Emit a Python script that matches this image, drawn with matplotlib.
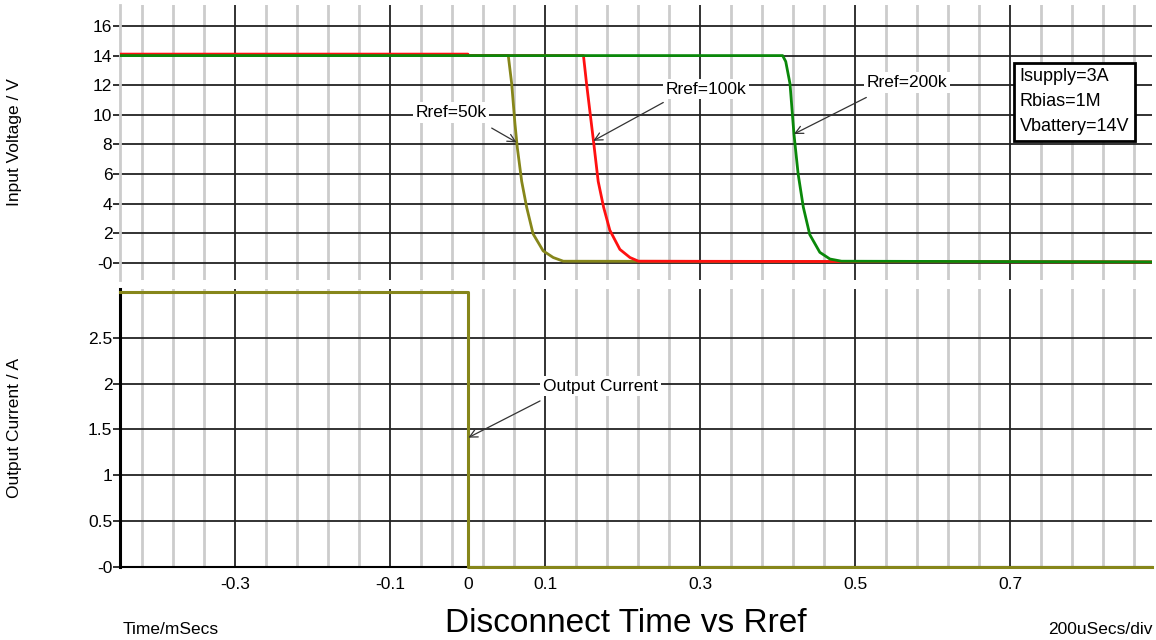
import numpy as np
import matplotlib
matplotlib.use("Agg")
import matplotlib.pyplot as plt
from matplotlib.ticker import FixedLocator

plt.rcParams['font.family'] = ['Liberation Sans', 'DejaVu Sans']

# ---------------- data ----------------
# time in ms, voltage in V
olive_t = [-0.449, 0.052, 0.0564, 0.0606, 0.0636, 0.0693, 0.0757, 0.084, 0.097, 0.110, 0.123, 0.8826]
olive_v = [14.0, 14.0, 12.1, 9.4, 7.8, 5.5, 3.75, 1.95, 0.8, 0.35, 0.1, 0.05]

red_t = [-0.449, 0.0, 0.0, 0.149, 0.153, 0.162, 0.168, 0.175, 0.183, 0.196, 0.209, 0.220, 0.8826]
red_v = [14.1, 14.1, 14.0, 14.0, 12.1, 8.2, 5.5, 3.75, 2.2, 0.9, 0.35, 0.1, 0.05]

green_t = [-0.449, 0.406, 0.410, 0.4155, 0.4206, 0.426, 0.4327, 0.441, 0.454, 0.467, 0.482, 0.8826]
green_v = [14.0, 14.0, 13.6, 12.1, 8.7, 6.0, 3.75, 1.9, 0.7, 0.25, 0.1, 0.05]

# output current in A
cur_t = [-0.449, 0.0, 0.0, 0.8826]
cur_a = [3.0, 3.0, 0.0, 0.0]

x_tick_vals = [-0.3, -0.1, 0, 0.1, 0.3, 0.5, 0.7]
x_tick_labels = ["-0.3", "-0.1", "0", "0.1", "0.3", "0.5", "0.7"]
v_tick_vals = [0, 2, 4, 6, 8, 10, 12, 14, 16]
v_tick_labels = ["-0", "2", "4", "6", "8", "10", "12", "14", "16"]
a_tick_vals = [0, 0.5, 1, 1.5, 2, 2.5]
a_tick_labels = ["-0", "0.5", "1", "1.5", "2", "2.5"]

info_text = "Isupply=3A\nRbias=1M\nVbattery=14V"

# ---------------- styles ----------------
C_OLIVE = '#86861a'
C_RED = '#ff1010'
C_GREEN = '#0a880a'
C_MAJ = '#222222'
C_MIN = '#cccccc'
FS = 12.5
W, H = 1156, 640
XLIM = (-0.449, 0.8826)

fig = plt.figure(figsize=(W / 100, H / 100), dpi=100)
L, R = 120, 1152
ax1 = fig.add_axes([L / W, 1 - 280 / H, (R - L) / W, (280 - 5) / H])
ax2 = fig.add_axes([L / W, 1 - 567 / H, (R - L) / W, (567 - 289) / H])

minor_x = np.round(np.arange(-0.42, 0.87, 0.04), 3)

for ax in (ax1, ax2):
    ax.set_xlim(*XLIM)
    ax.xaxis.set_major_locator(FixedLocator(x_tick_vals))
    ax.xaxis.set_minor_locator(FixedLocator(minor_x))
    ax.set_axisbelow(True)
    ax.grid(True, axis='x', which='minor', color=C_MIN, lw=2.0)
    ax.grid(True, axis='x', which='major', color=C_MAJ, lw=1.3)
    ax.grid(True, axis='y', which='major', color=C_MAJ, lw=1.3)
    ax.tick_params(axis='x', which='both', length=0)
    ax.tick_params(axis='y', which='major', length=5, width=1.3, color=C_MAJ,
                   labelsize=FS, pad=0.5)
    for s in ('top', 'right'):
        ax.spines[s].set_visible(False)
    # no grid line at the "0" tick
    for i, v in enumerate(x_tick_vals):
        if v == 0:
            ax.get_xgridlines()[i].set_visible(False)

# ---- top panel ----
ax1.set_ylim(-1.17, 17.42)
ax1.set_yticks(v_tick_vals)
ax1.set_yticklabels(v_tick_labels)
ax1.tick_params(axis='x', labelbottom=False)
ax1.spines['bottom'].set_visible(False)
ax1.spines['left'].set_color(C_MIN)
ax1.spines['left'].set_linewidth(2.0)

ax1.plot(olive_t, olive_v, color=C_OLIVE, lw=2.0, zorder=3)
ax1.plot(red_t, red_v, color=C_RED, lw=2.0, zorder=4)
ax1.plot(green_t, green_v, color=C_GREEN, lw=2.0, zorder=5)

ax1.set_ylabel("Input Voltage / V", fontsize=FS)
ax1.yaxis.set_label_coords((22 - L) / (R - L), 0.5)

arrow_kw = dict(arrowstyle='->', color='#333333', lw=0.9, shrinkA=0, shrinkB=0,
                mutation_scale=14)
box_kw = dict(boxstyle='square,pad=0.15', fc='white', ec='none')
ax1.annotate("", xy=(0.0628, 8.13), xytext=(0.0306, 9.1), arrowprops=arrow_kw, zorder=6)
ax1.text(-0.022, 10.15, "Rref=50k", ha='center', va='center', fontsize=FS, bbox=box_kw, zorder=7)
ax1.annotate("", xy=(0.1617, 8.24), xytext=(0.252, 10.83), arrowprops=arrow_kw, zorder=6)
ax1.text(0.307, 11.74, "Rref=100k", ha='center', va='center', fontsize=FS, bbox=box_kw, zorder=7)
ax1.annotate("", xy=(0.4206, 8.7), xytext=(0.514, 11.17), arrowprops=arrow_kw, zorder=6)
ax1.text(0.567, 12.18, "Rref=200k", ha='center', va='center', fontsize=FS, bbox=box_kw, zorder=7)

ax1.text(0.712, 13.15, info_text, ha='left', va='top', fontsize=13, linespacing=1.62,
         bbox=dict(boxstyle='square,pad=0.3', fc='white', ec='black', lw=2.0), zorder=8)

# ---- bottom panel ----
ax2.set_ylim(0, 3.03)
ax2.set_yticks(a_tick_vals)
ax2.set_yticklabels(a_tick_labels)
ax2.set_xticklabels(x_tick_labels)
ax2.tick_params(axis='x', labelsize=FS, pad=7)
ax2.spines['left'].set_color('black')
ax2.spines['left'].set_linewidth(2.2)
ax2.spines['bottom'].set_color('black')
ax2.spines['bottom'].set_linewidth(1.5)

ax2.plot(cur_t, cur_a, color=C_OLIVE, lw=2.2, zorder=5, clip_on=False)

ax2.set_ylabel("Output Current / A", fontsize=FS)
ax2.yaxis.set_label_coords((22 - L) / (R - L), 0.5)

ax2.annotate("", xy=(0.0004, 1.41), xytext=(0.093, 1.81), arrowprops=arrow_kw, zorder=6)
ax2.text(0.171, 1.97, "Output Current", ha='center', va='center', fontsize=FS, bbox=box_kw, zorder=7)

# ---- figure texts ----
fig.text(123 / W, 1 - 634 / H, "Time/mSecs", ha='left', va='baseline', fontsize=FS)
fig.text(1153 / W, 1 - 634 / H, "200uSecs/div", ha='right', va='baseline', fontsize=FS)
fig.text(626 / W, 1 - 639 / H, "Disconnect Time vs Rref", ha='center', va='bottom', fontsize=24)

fig.savefig("out.png", dpi=100)
